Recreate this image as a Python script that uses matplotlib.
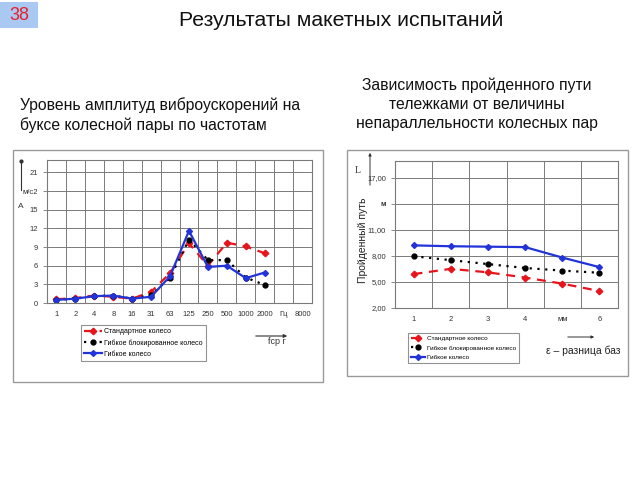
import numpy as np
import matplotlib
matplotlib.use("Agg")
import matplotlib.pyplot as plt
from matplotlib.patches import Rectangle

plt.rcParams['font.family'] = ['Liberation Sans', 'DejaVu Sans']

# left chart data: amplitude of vibration acceleration by frequency
freq_labels = ['1', '2', '4', '8', '16', '31', '63', '125', '250', '500', '1000', '2000', 'Гц', '8000']
amp_standard = [0.6, 0.8, 1.2, 1.0, 0.7, 1.8, 4.8, 9.6, 6.0, 9.7, 9.1, 8.0]
amp_blocked = [0.5, 0.7, 1.1, 1.2, 0.7, 1.3, 4.1, 10.2, 6.9, 6.9, 4.1, 2.9]
amp_flexible = [0.5, 0.7, 1.1, 1.2, 0.7, 1.0, 4.3, 11.6, 5.8, 6.0, 4.0, 4.9]
amp_ticks = [0, 3, 6, 9, 12, 15, 18, 21]
amp_tick_labels = ['0', '3', '6', '9', '12', '15', 'м/с2', '21']

# right chart data: distance travelled vs wheelbase difference
eps_labels = ['1', '2', '3', '4', 'мм', '6']
dist_standard = [5.9, 6.5, 6.1, 5.5, 4.8, 3.95]
dist_blocked = [7.95, 7.5, 7.05, 6.6, 6.3, 6.05]
dist_flexible = [9.2, 9.1, 9.05, 9.0, 7.8, 6.7]
dist_ticks = [2, 5, 8, 11, 14, 17]
dist_tick_labels = ['2,00', '5,00', '8,00', '11,00', 'м', '17,00']

series_names = ['Стандартное колесо', 'Гибкое блокированное колесо', 'Гибкое колесо']

fig = plt.figure(figsize=(6.4, 4.8), dpi=100)

def fx(px):
    return px / 640.0

def fy(py):
    return 1 - py / 480.0

# slide number badge
fig.patches.append(Rectangle((0, fy(28)), fx(38), 26 / 480.0, transform=fig.transFigure,
                             facecolor='#a9c9f2', edgecolor='none', zorder=-1))
fig.text(fx(19), fy(15), '38', color='#e8202a', fontsize=13, ha='center', va='center')

# titles
fig.text(fx(341), fy(20), 'Результаты макетных испытаний', fontsize=15.3, ha='center', va='center', color='#111111')
fig.text(fx(20), fy(115), 'Уровень амплитуд виброускорений на\nбуксе колесной пары по частотам',
         fontsize=11.3, ha='left', va='center', linespacing=1.35, color='#111111')
fig.text(fx(477), fy(104), 'Зависимость пройденного пути\nтележками от величины\nнепараллельности колесных пар',
         fontsize=11.3, ha='center', va='center', linespacing=1.35, color='#111111')

# panel frames
fig.patches.append(Rectangle((fx(13), fy(382)), fx(310), 232 / 480.0, transform=fig.transFigure,
                             facecolor='white', edgecolor='#9a9a9a', lw=1.0, zorder=-1))
fig.patches.append(Rectangle((fx(347), fy(376)), fx(281), 226 / 480.0, transform=fig.transFigure,
                             facecolor='white', edgecolor='#9a9a9a', lw=1.0, zorder=-1))

styles = [
    dict(color='#e8141c', ls=(0, (4, 3)), marker='D', ms=3.3, lw=1.6),
    dict(color='black', ls=(0, (1, 2.5)), marker='o', ms=3.5, lw=1.6),
    dict(color='#2234d8', ls='-', marker='D', ms=3.0, lw=1.6),
]

grid_col = '#7a7a7a'


def style_axes(ax):
    for s in ax.spines.values():
        s.set_color(grid_col)
        s.set_linewidth(0.8)
    ax.tick_params(axis='both', labelsize=5.5, colors=grid_col, labelcolor='#333333', length=3, width=0.6)
    ax.tick_params(axis='x', length=0, pad=6)
    ax.set_facecolor('white')


# ---- left chart ----
ax1 = fig.add_axes([fx(47), fy(303), fx(265), (303 - 160) / 480.0])
x1 = np.arange(len(amp_standard))
for vals, st, name in zip([amp_standard, amp_blocked, amp_flexible], styles, series_names):
    ax1.plot(x1, vals, label=name, **st)
ax1.set_xlim(-0.5, len(freq_labels) - 0.5)
ax1.set_ylim(0, 23)
ax1.set_xticks(np.arange(len(freq_labels)))
ax1.set_xticklabels(freq_labels)
ax1.set_yticks(amp_ticks)
ax1.set_yticklabels(amp_tick_labels)
ax1.set_xticks(np.arange(-0.5, len(freq_labels), 0.5), minor=True)
ax1.tick_params(axis='x', which='minor', length=0)
ax1.grid(True, which='minor', axis='x', color=grid_col, lw=0.7)
ax1.grid(True, which='major', axis='y', color=grid_col, lw=0.7)
ax1.set_axisbelow(True)
style_axes(ax1)
leg1 = ax1.legend(loc='upper left', bbox_to_anchor=(fx(81), fy(325)), bbox_transform=fig.transFigure,
                  fontsize=5.0, frameon=True, fancybox=False, borderpad=0.45, handlelength=2.6,
                  handletextpad=0.3, labelspacing=0.6, borderaxespad=0)
leg1.get_frame().set_edgecolor('#777777')
leg1.get_frame().set_linewidth(0.8)

fig.text(fx(21), fy(206), 'A', fontsize=6, ha='center', va='center', color='#333333')
fig.add_artist(plt.Line2D([fx(21), fx(21)], [fy(190), fy(161)], transform=fig.transFigure,
                          color='#333333', lw=0.8, marker='o', markevery=[1], ms=2))
ax1.annotate('', xy=(fx(290), fy(336)), xytext=(fx(253), fy(336)), xycoords='figure fraction',
             arrowprops=dict(arrowstyle='-|>', color='#333333', lw=0.8, mutation_scale=5))
fig.text(fx(277), fy(342), 'fср г', fontsize=6.5, ha='center', va='center', color='#333333')

# ---- right chart ----
ax2 = fig.add_axes([fx(395), fy(308), fx(223), (308 - 161) / 480.0])
x2 = np.arange(len(eps_labels))
for vals, st, name in zip([dist_standard, dist_blocked, dist_flexible], styles, series_names):
    ax2.plot(x2, vals, label=name, **st)
ax2.set_xlim(-0.5, len(eps_labels) - 0.5)
ax2.set_ylim(2, 18.9)
ax2.set_xticks(x2)
ax2.set_xticklabels(eps_labels)
ax2.set_yticks(dist_ticks)
ax2.set_yticklabels(dist_tick_labels)
for lab in ax2.get_yticklabels():
    if lab.get_text() == 'м':
        lab.set_fontweight('bold')
        lab.set_fontsize(6.5)
ax2.set_xticks(np.arange(-0.5, len(eps_labels), 0.5), minor=True)
ax2.tick_params(axis='x', which='minor', length=0)
ax2.grid(True, which='minor', axis='x', color=grid_col, lw=0.7)
ax2.grid(True, which='major', axis='y', color=grid_col, lw=0.7)
ax2.set_axisbelow(True)
style_axes(ax2)
leg2 = ax2.legend(loc='upper left', bbox_to_anchor=(fx(408), fy(333)), bbox_transform=fig.transFigure,
                  fontsize=4.6, frameon=True, fancybox=False, borderpad=0.45, handlelength=2.2,
                  handletextpad=0.3, labelspacing=0.6, borderaxespad=0)
leg2.get_frame().set_edgecolor('#777777')
leg2.get_frame().set_linewidth(0.8)

fig.text(fx(363), fy(240), 'Пройденный путь', fontsize=7.5, rotation=90, ha='center', va='center', color='#222222')
fig.text(fx(358), fy(170), 'L', fontsize=7, family='Liberation Serif', ha='center', va='center', color='#333333')
ax2.annotate('', xy=(fx(370), fy(150)), xytext=(fx(370), fy(188)), xycoords='figure fraction',
             arrowprops=dict(arrowstyle='-|>', color='#333333', lw=0.7, mutation_scale=4))
ax2.annotate('', xy=(fx(597), fy(337)), xytext=(fx(565), fy(337)), xycoords='figure fraction',
             arrowprops=dict(arrowstyle='-|>', color='#333333', lw=0.7, mutation_scale=4))
fig.text(fx(583), fy(351), 'ε – разница баз', fontsize=7.5, ha='center', va='center', color='#222222')

fig.savefig('out.png', dpi=100)
